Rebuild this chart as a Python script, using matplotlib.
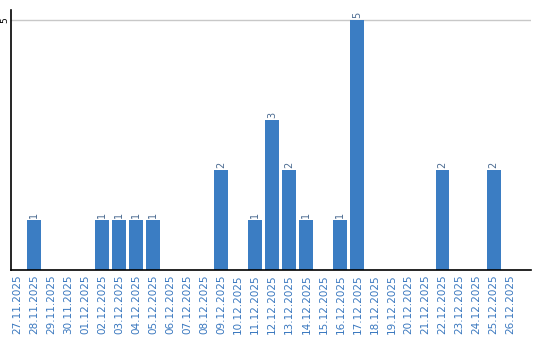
import matplotlib
matplotlib.use("Agg")
import matplotlib.pyplot as plt
import numpy as np

dates = ["27.11.2025", "28.11.2025", "29.11.2025", "30.11.2025", "01.12.2025",
         "02.12.2025", "03.12.2025", "04.12.2025", "05.12.2025", "06.12.2025",
         "07.12.2025", "08.12.2025", "09.12.2025", "10.12.2025", "11.12.2025",
         "12.12.2025", "13.12.2025", "14.12.2025", "15.12.2025", "16.12.2025",
         "17.12.2025", "18.12.2025", "19.12.2025", "20.12.2025", "21.12.2025",
         "22.12.2025", "23.12.2025", "24.12.2025", "25.12.2025", "26.12.2025"]
counts = [0, 1, 0, 0, 0, 1, 1, 1, 1, 0,
          0, 0, 2, 0, 1, 3, 2, 1, 0, 1,
          5, 0, 0, 0, 0, 2, 0, 0, 2, 0]

bar_color = "#3b7dc3"
label_color = "#3a78bf"

fig = plt.figure(figsize=(5.4, 3.4), dpi=100)
ax = fig.add_axes([11/540, 1 - 270/340, 520/540, 260/340])

x = np.arange(len(dates))
ax.bar(x, counts, width=0.82, color=bar_color, zorder=2)

for xi, c in zip(x, counts):
    if c > 0:
        ax.text(xi, c + 0.05, str(c), rotation=90, ha="center", va="bottom",
                fontsize=7, color="#4a6a90")

ax.set_xlim(-0.35, 30.2)
ax.set_ylim(0, 5.2)
ax.set_yticks([5])
ax.set_yticklabels(["5"], rotation=90, va="center", fontsize=6.5, color="black")
ax.set_xticks(x)
ax.set_xticklabels(dates, rotation=90, fontsize=7.5, color=label_color)
ax.tick_params(axis="x", length=0, pad=3)
ax.tick_params(axis="y", length=0, pad=1)
ax.grid(axis="y", color="#c8c8c8", linewidth=1, zorder=0)
ax.spines["top"].set_visible(False)
ax.spines["right"].set_visible(False)
ax.spines["left"].set_linewidth(1.2)
ax.spines["bottom"].set_linewidth(1.2)

fig.savefig("out.png", dpi=100)
